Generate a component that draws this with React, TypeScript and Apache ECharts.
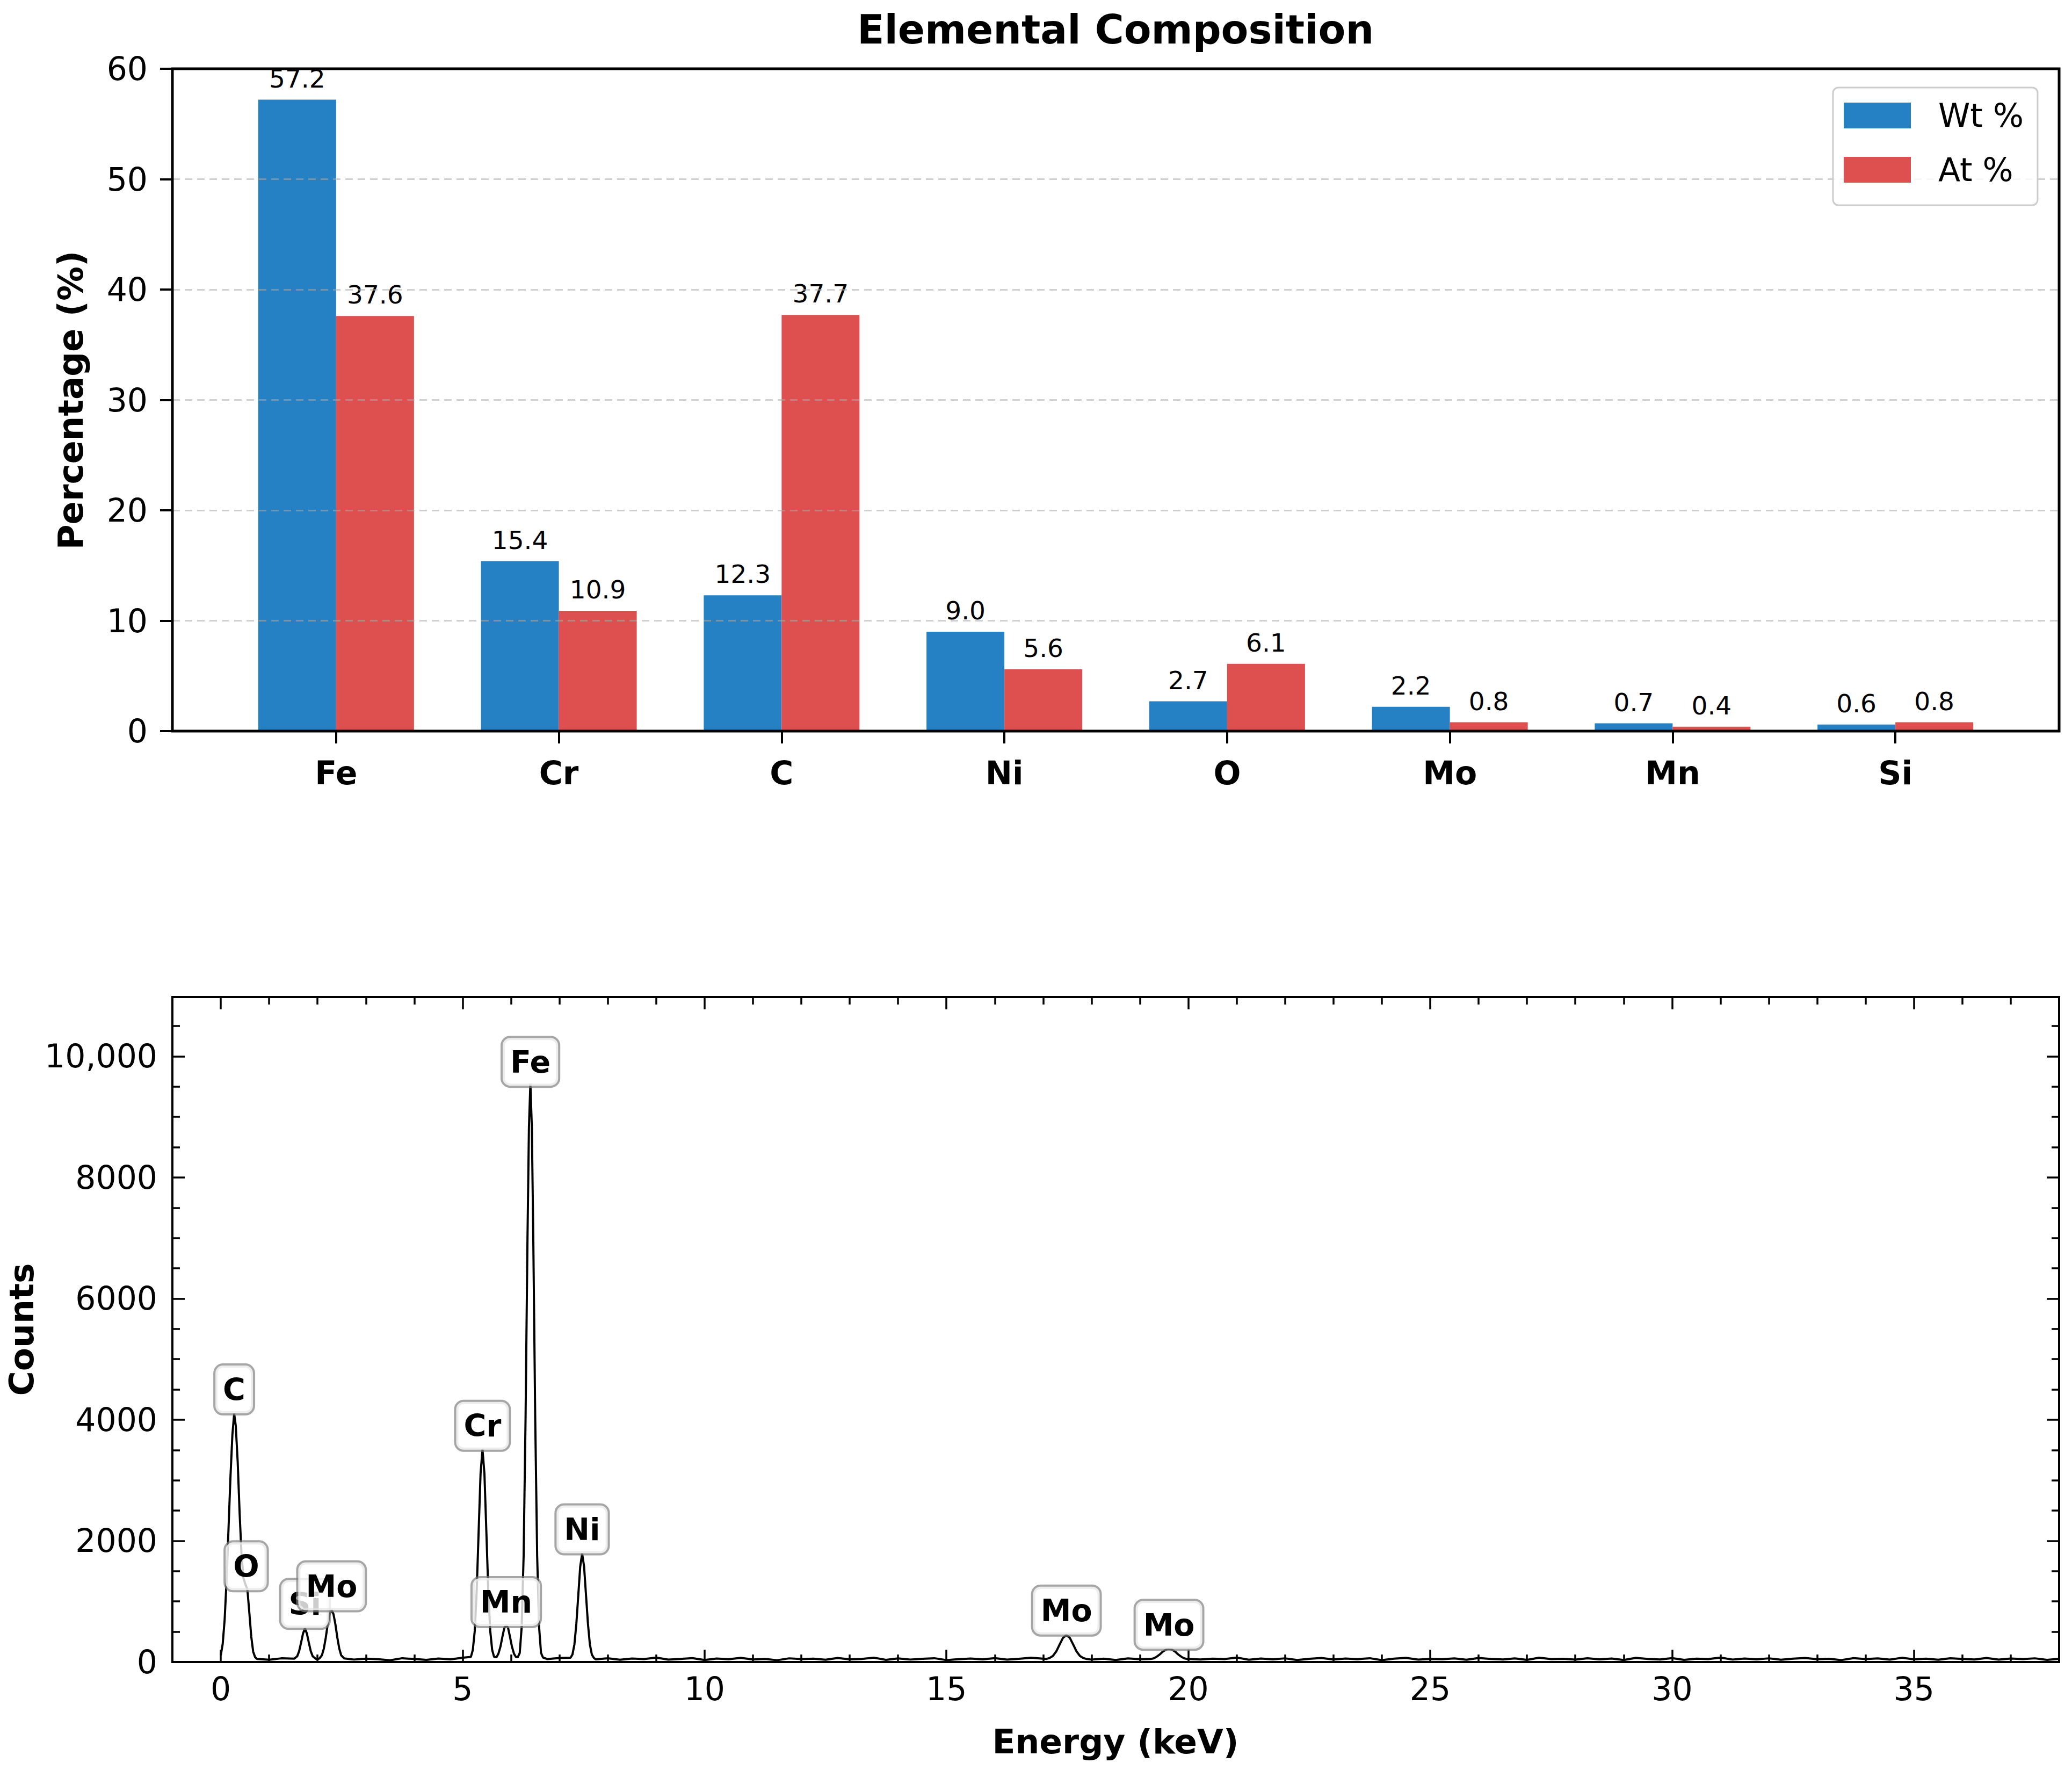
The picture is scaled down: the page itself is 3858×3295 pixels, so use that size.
import React, { useEffect, useRef } from 'react';
import * as echarts from 'echarts';

// bar chart data
const elements = ['Fe', 'Cr', 'C', 'Ni', 'O', 'Mo', 'Mn', 'Si'];
const wtPercent = [57.2, 15.4, 12.3, 9.0, 2.7, 2.2, 0.7, 0.6];
const atPercent = [37.6, 10.9, 37.7, 5.6, 6.1, 0.8, 0.4, 0.8];
const elementTicks = [0, 1, 2, 3, 4, 5, 6, 7];

// spectrum ticks
const energyTicks = [0, 5, 10, 15, 20, 25, 30, 35];
const energyMinorTicks = [1, 2, 3, 4, 6, 7, 8, 9, 11, 12, 13, 14, 16, 17, 18, 19, 21, 22, 23, 24, 26, 27, 28, 29, 31, 32, 33, 34, 36, 37];
const countTicks = [0, 2000, 4000, 6000, 8000, 10000];
const countMinorTicks = [500, 1000, 1500, 2500, 3000, 3500, 4500, 5000, 5500, 6500, 7000, 7500, 8500, 9000, 9500, 10500];

// spectrum peaks [keV, counts]
const cOPeak = [
  [0.0, 110], [0.04, 300], [0.08, 700], [0.12, 1350], [0.16, 2200], [0.2, 3050], [0.24, 3750],
  [0.277, 4100], [0.31, 3900], [0.35, 3300], [0.39, 2450], [0.43, 1750], [0.47, 1380],
  [0.51, 1280], [0.55, 1200], [0.59, 820], [0.63, 420], [0.67, 170], [0.71, 80],
];
const siMoPeak = [
  [1.52, 55], [1.58, 95], [1.62, 180], [1.66, 320], [1.7, 470], [1.74, 555], [1.78, 470],
  [1.82, 320], [1.86, 180], [1.9, 95], [1.96, 55], [2.0, 45], [2.04, 60], [2.09, 110],
  [2.13, 220], [2.17, 400], [2.21, 620], [2.25, 790], [2.29, 860], [2.33, 790], [2.37, 620],
  [2.41, 400], [2.45, 220], [2.49, 110], [2.55, 60],
];
const crMnFePeak = [
  [5.17, 85], [5.21, 200], [5.25, 515], [5.29, 1170], [5.33, 2150], [5.37, 3110], [5.41, 3510],
  [5.45, 3110], [5.49, 2150], [5.53, 1170], [5.57, 515], [5.61, 200], [5.65, 85],
  [5.7, 80], [5.74, 140], [5.78, 250], [5.82, 410], [5.86, 560], [5.9, 610], [5.94, 560],
  [5.98, 410], [6.02, 250], [6.06, 140], [6.1, 85],
  [6.14, 80], [6.18, 150], [6.22, 580], [6.26, 1750], [6.3, 4010], [6.34, 6990], [6.37, 8830],
  [6.4, 9550], [6.43, 8830], [6.46, 6990], [6.5, 4010], [6.54, 1750], [6.58, 580], [6.62, 150], [6.66, 75],
];
const niPeak = [
  [7.23, 70], [7.27, 125], [7.31, 290], [7.35, 630], [7.39, 1100], [7.43, 1575], [7.47, 1790],
  [7.51, 1575], [7.55, 1100], [7.59, 630], [7.63, 290], [7.67, 125], [7.71, 70],
];
const moKaPeak = [
  [17.06, 50], [17.13, 65], [17.2, 100], [17.27, 175], [17.34, 290], [17.41, 400], [17.48, 445],
  [17.55, 400], [17.62, 290], [17.69, 175], [17.76, 100], [17.83, 65], [17.9, 50],
];
const moKbPeak = [
  [19.22, 50], [19.28, 60], [19.34, 85], [19.41, 125], [19.47, 170], [19.54, 205], [19.6, 215],
  [19.66, 205], [19.73, 170], [19.79, 125], [19.86, 85], [19.92, 60], [19.98, 50],
];
const peakRanges = [[0, 0.72], [1.5, 2.56], [5.15, 6.67], [7.2, 7.72], [17.0, 17.95], [19.2, 20.0]];

// background counts, 0.75 keV to 38 keV every 0.25 keV
const baselineStart = 0.75;
const baselineStep = 0.25;
const baselineCounts = [
  52, 38, 61, 44, 57, 33, 49, 66, 41, 55,
  47, 29, 63, 50, 36, 58, 45, 71, 39, 53,
  60, 42, 35, 56, 48, 67, 31, 54, 44, 62,
  37, 58, 49, 73, 40, 51, 64, 34, 57, 46,
  69, 43, 52, 30, 61, 48, 55, 38, 66, 45,
  50, 72, 36, 59, 41, 54, 63, 32, 47, 58,
  44, 65, 39, 53, 70, 35, 57, 48, 62, 41,
  55, 33, 60, 46, 68, 52, 37, 64, 43, 56,
  49, 74, 38, 57, 45, 61, 34, 53, 67, 42,
  58, 47, 63, 31, 55, 69, 40, 52, 46, 60,
  37, 66, 50, 43, 59, 35, 71, 48, 54, 39,
  62, 45, 57, 33, 68, 51, 42, 64, 36, 56,
  49, 73, 41, 58, 44, 61, 38, 55, 67, 46,
  53, 32, 64, 48, 59, 40, 70, 45, 56, 37,
  62, 50, 43, 66, 39, 57, 48, 61, 35, 54,
];

// peak annotations
const peakNames = ['C', 'O', 'Si', 'Mo', 'Cr', 'Mn', 'Fe', 'Ni', 'Mo', 'Mo'];
const peakEnergies = [0.277, 0.525, 1.74, 2.29, 5.41, 5.9, 6.4, 7.47, 17.48, 19.6];
const peakLabelCounts = [4500, 1580, 960, 1250, 3900, 990, 9910, 2190, 850, 615];

const FONT = 'DejaVu Sans';
const BLUE = '#2581c4';
const RED = '#de5050';

function buildSpectrum() {
  const pts: number[][] = [];
  baselineCounts.forEach((c, i) => {
    const e = baselineStart + i * baselineStep;
    if (!peakRanges.some(([a, b]) => e >= a && e <= b)) pts.push([e, c]);
  });
  [cOPeak, siMoPeak, crMnFePeak, niPeak, moKaPeak, moKbPeak].forEach((p) => pts.push(...p));
  return pts.sort((a, b) => a[0] - b[0]);
}

function tickAxis(grid: number, pos: string, min: number, max: number, ticks: number[], len: number, labels: boolean, fmt?: (v: number) => string) {
  return {
    type: 'value',
    gridIndex: grid,
    position: pos,
    min,
    max,
    axisLine: { show: false, onZero: false },
    splitLine: { show: false },
    axisTick: { show: true, inside: true, length: len, customValues: ticks, lineStyle: { color: '#000', width: 3.5 } },
    axisLabel: labels
      ? { show: true, customValues: ticks, fontFamily: FONT, fontSize: 60, color: '#000', margin: pos === 'bottom' ? 20 : 28, formatter: fmt }
      : { show: false },
  };
}

export default function App() {
  const chartRef = useRef<HTMLDivElement>(null);

  useEffect(() => {
    document.body.style.margin = '0';
    if (!chartRef.current) return;
    const chart = echarts.init(chartRef.current, null, { renderer: 'svg' });

    const countFmt = (v: number) => String(v).replace(/\B(?=(\d{3})+(?!\d))/g, v >= 10000 ? ',' : '');

    const option = {
      animation: false,
      backgroundColor: '#fff',
      textStyle: { fontFamily: FONT },
      grid: [
        { left: 321, top: 128, width: 3513, height: 1233, show: true, borderColor: '#000', borderWidth: 5, backgroundColor: 'transparent', z: 4 },
        { left: 321, top: 1856, width: 3513, height: 1238, show: true, borderColor: '#000', borderWidth: 4, backgroundColor: 'transparent', z: 4 },
      ],
      legend: {
        left: 3413,
        top: 163,
        orient: 'vertical',
        data: ['Wt %', 'At %'],
        icon: 'rect',
        itemWidth: 125,
        itemHeight: 48,
        itemGap: 41,
        padding: [22, 26, 36, 20],
        backgroundColor: 'rgba(255,255,255,0.8)',
        borderColor: '#cccccc',
        borderWidth: 3,
        borderRadius: 10,
        textStyle: { fontFamily: FONT, fontSize: 60, color: '#000', padding: [0, 0, 0, 46] },
      },
      xAxis: [
        {
          type: 'value',
          gridIndex: 0,
          position: 'bottom',
          min: -0.735,
          max: 7.735,
          axisLine: { show: false, onZero: false },
          splitLine: { show: false },
          axisTick: { show: true, inside: false, length: 23, customValues: elementTicks, lineStyle: { color: '#000', width: 4 } },
          axisLabel: {
            customValues: elementTicks,
            formatter: (v: number) => elements[Math.round(v)],
            fontFamily: FONT,
            fontSize: 60,
            fontWeight: 'bold',
            color: '#000',
            margin: 48,
          },
        },
        tickAxis(1, 'bottom', -1, 38, energyTicks, 23, true),
        tickAxis(1, 'bottom', -1, 38, energyMinorTicks, 14, false),
        tickAxis(1, 'top', -1, 38, energyTicks, 23, false),
        tickAxis(1, 'top', -1, 38, energyMinorTicks, 14, false),
      ],
      yAxis: [
        {
          type: 'value',
          gridIndex: 0,
          position: 'left',
          min: 0,
          max: 60,
          interval: 10,
          z: 3,
          axisLine: { show: false, onZero: false },
          axisTick: { show: true, inside: false, length: 23, lineStyle: { color: '#000', width: 4 } },
          axisLabel: { fontFamily: FONT, fontSize: 60, color: '#000', margin: 46 },
          splitLine: { show: true, lineStyle: { type: [14, 9], color: 'rgba(170,170,170,0.55)', width: 3 } },
        },
        tickAxis(1, 'left', 0, 10980, countTicks, 23, true, countFmt),
        tickAxis(1, 'left', 0, 10980, countMinorTicks, 14, false),
        tickAxis(1, 'right', 0, 10980, countTicks, 23, false),
        tickAxis(1, 'right', 0, 10980, countMinorTicks, 14, false),
      ],
      series: [
        {
          name: 'Wt %',
          type: 'bar',
          xAxisIndex: 0,
          yAxisIndex: 0,
          data: wtPercent.map((v, i) => [i, v]),
          barWidth: 145,
          barGap: '0%',
          itemStyle: { color: BLUE },
          label: {
            show: true,
            position: 'top',
            distance: 16,
            fontFamily: FONT,
            fontSize: 47,
            color: '#000',
            formatter: (p: any) => p.value[1].toFixed(1),
          },
        },
        {
          name: 'At %',
          type: 'bar',
          xAxisIndex: 0,
          yAxisIndex: 0,
          data: atPercent.map((v, i) => [i, v]),
          barWidth: 145,
          barGap: '0%',
          itemStyle: { color: RED },
          label: {
            show: true,
            position: 'top',
            distance: 16,
            fontFamily: FONT,
            fontSize: 47,
            color: '#000',
            formatter: (p: any) => p.value[1].toFixed(1),
          },
        },
        {
          name: 'spectrum',
          type: 'line',
          xAxisIndex: 1,
          yAxisIndex: 1,
          data: buildSpectrum(),
          showSymbol: false,
          lineStyle: { color: '#000', width: 4 },
          z: 2,
        },
        {
          name: 'peaks',
          type: 'scatter',
          xAxisIndex: 1,
          yAxisIndex: 1,
          symbol: 'rect',
          symbolSize: 1,
          itemStyle: { color: 'transparent' },
          z: 6,
          silent: true,
          data: peakNames.map((n, i) => ({ name: n, value: [peakEnergies[i], peakLabelCounts[i]] })),
          label: {
            show: true,
            position: 'inside',
            formatter: '{b}',
            fontFamily: FONT,
            fontSize: 57,
            fontWeight: 'bold',
            color: '#000',
            opacity: 1,
            backgroundColor: 'rgba(255,255,255,0.8)',
            borderColor: 'rgba(128,128,128,0.7)',
            borderWidth: 4,
            borderRadius: 14,
            padding: [16, 14],
          },
        },
      ],
      graphic: [
        {
          type: 'text',
          x: 2077,
          y: 55,
          style: { text: 'Elemental Composition', fontFamily: FONT, fontSize: 74, fontWeight: 'bold', fill: '#000', align: 'center', verticalAlign: 'middle' },
        },
        {
          type: 'text',
          x: 132,
          y: 745,
          rotation: Math.PI / 2,
          style: { text: 'Percentage (%)', fontFamily: FONT, fontSize: 64, fontWeight: 'bold', fill: '#000', align: 'center', verticalAlign: 'middle' },
        },
        {
          type: 'text',
          x: 40,
          y: 2475,
          rotation: Math.PI / 2,
          style: { text: 'Counts', fontFamily: FONT, fontSize: 63, fontWeight: 'bold', fill: '#000', align: 'center', verticalAlign: 'middle' },
        },
        {
          type: 'text',
          x: 2077,
          y: 3242,
          style: { text: 'Energy (keV)', fontFamily: FONT, fontSize: 63, fontWeight: 'bold', fill: '#000', align: 'center', verticalAlign: 'middle' },
        },
      ],
    };

    chart.setOption(option);
    return () => chart.dispose();
  }, []);

  return <div ref={chartRef} style={{ width: '3858px', height: '3295px' }} />;
}
